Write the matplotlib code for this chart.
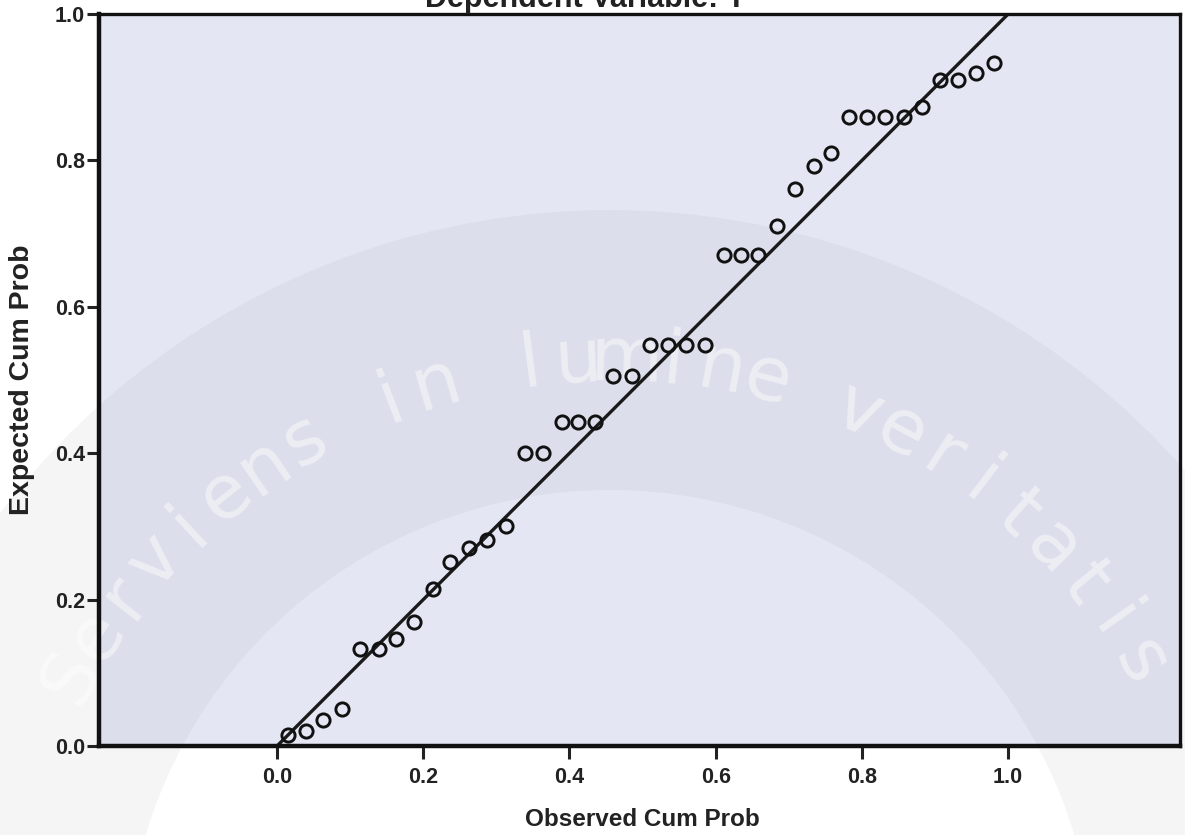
import numpy as np
import matplotlib
matplotlib.use("Agg")
import matplotlib.pyplot as plt
import matplotlib.transforms as mtransforms
from matplotlib.patches import Wedge

plt.rcParams['font.family'] = ['Liberation Sans', 'DejaVu Sans']

# ---- data ----
observed = [0.015, 0.039, 0.063, 0.089, 0.114, 0.139, 0.163, 0.188, 0.213, 0.237,
            0.262, 0.287, 0.313, 0.339, 0.364, 0.390, 0.412, 0.435, 0.460, 0.485,
            0.510, 0.535, 0.560, 0.586, 0.611, 0.634, 0.658, 0.684, 0.709, 0.734,
            0.758, 0.782, 0.807, 0.832, 0.857, 0.882, 0.907, 0.932, 0.956, 0.981]
expected = [0.015, 0.021, 0.035, 0.050, 0.133, 0.133, 0.146, 0.170, 0.215, 0.251,
            0.271, 0.281, 0.301, 0.400, 0.400, 0.442, 0.442, 0.442, 0.505, 0.505,
            0.548, 0.548, 0.548, 0.548, 0.671, 0.671, 0.671, 0.710, 0.761, 0.792,
            0.810, 0.859, 0.859, 0.859, 0.859, 0.873, 0.910, 0.910, 0.920, 0.933]
ref_line = [0.0, 1.0]
tick_vals = [0.0, 0.2, 0.4, 0.6, 0.8, 1.0]
tick_labels = ["0.0", "0.2", "0.4", "0.6", "0.8", "1.0"]
title = "Dependent Variable: Y"
xlabel = "Observed Cum Prob"
ylabel = "Expected Cum Prob"
watermark = "Serviens in lumine veritatis"

W, H = 1185, 835
fig = plt.figure(figsize=(W / 100, H / 100), dpi=100)
fig.patch.set_facecolor('white')

left, right, top, bottom = 99, 1180, 14, 746
ax = fig.add_axes([left / W, (H - bottom) / H, (right - left) / W, (bottom - top) / H])
ax.set_facecolor('#e4e7f3')

# pixel transform (y up from bottom of figure, in pixels)
pix = mtransforms.Affine2D().scale(1 / W, 1 / H) + fig.transFigure

# faint watermark band and lettering
cx, cy = 610, H - 975
band = Wedge((cx, cy), 765, 12, 168, width=280, transform=pix,
             facecolor='#7f7f8a', alpha=0.07, edgecolor='none', zorder=0.5)
band.set_clip_on(False)
ax.add_artist(band)
r_text = 615
ang_start, ang_end = 151.0, 30.5
step = (ang_start - ang_end) / (len(watermark) - 1)
ang = ang_start
for ch in watermark:
    th = np.deg2rad(ang)
    ax.text(cx + r_text * np.cos(th), cy + r_text * np.sin(th), ch,
            transform=pix, rotation=ang - 90, rotation_mode='anchor',
            ha='center', va='center', fontsize=54, color='white', alpha=0.45,
            family='DejaVu Sans', zorder=0.6, clip_on=False)
    ang -= step

ax.plot(ref_line, ref_line, color='#1a1a1a', lw=2.4, zorder=2, solid_capstyle='butt')
ax.plot(observed, expected, linestyle='none', marker='o', markersize=9.5,
        markerfacecolor='none', markeredgecolor='#111111', markeredgewidth=2.1, zorder=3)

ax.set_xlim(-0.2435, 1.235)
ax.set_ylim(0.0, 1.0)
ax.set_xticks(tick_vals)
ax.set_xticklabels(tick_labels)
ax.set_yticks(tick_vals)
ax.set_yticklabels(tick_labels)
ax.tick_params(axis='both', direction='out', length=9, width=2.2, color='#222222',
               labelsize=15.5, pad=6)
for lab in ax.get_xticklabels() + ax.get_yticklabels():
    lab.set_fontweight('bold')
    lab.set_color('#222222')
ax.tick_params(axis='y', pad=1)
for side in ['left', 'bottom']:
    ax.spines[side].set_linewidth(3.2)
    ax.spines[side].set_color('#111111')
for side in ['top', 'right']:
    ax.spines[side].set_linewidth(2.4)
    ax.spines[side].set_color('#111111')

fig.text(642 / W, 1 - 819 / H, xlabel, ha='center', va='center',
         fontsize=17.5, fontweight='bold', color='#222222')
fig.text(22 / W, 1 - 380 / H, ylabel, ha='center', va='center', rotation=90,
         fontsize=20.5, fontweight='bold', color='#222222')
# the reference shows the title cut by the top edge of the picture
fig.text(586 / W, 1 - 7 / H, title, ha='center', va='baseline',
         fontsize=22, fontweight='bold', color='#222222')

fig.savefig('out.png', dpi=100)
